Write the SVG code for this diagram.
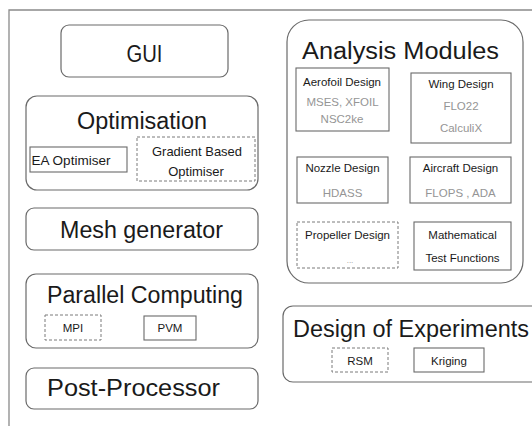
<svg xmlns="http://www.w3.org/2000/svg" width="532" height="426" viewBox="0 0 532 426">
<style>
.frame{fill:none;stroke:#8a8a8a;stroke-width:1.3}
.big{fill:#fff;stroke:#6a6a6a;stroke-width:1.2}
.sub{fill:#fff;stroke:#6a6a6a;stroke-width:1.1}
.dash{fill:#fff;stroke:#7a7a7a;stroke-width:1;stroke-dasharray:3,2}
text{font-family:"Liberation Sans",Arial,sans-serif;text-anchor:middle;fill:#1a1a1a}
.t{font-size:23px}
.s{font-size:13px}
.m{font-size:11.5px}
.g{font-size:11.5px;fill:#959595}
</style>
<rect x="0" y="0" width="532" height="426" fill="#fff"/>
<path class="frame" d="M9,426 V10 H532"/>
<g id="gui">
<rect class="big" x="61" y="25" width="167" height="52" rx="8"/>
<text class="t" x="144.5" y="62" textLength="36" lengthAdjust="spacingAndGlyphs">GUI</text>
</g>
<g id="optimisation">
<rect class="big" x="26" y="96" width="232" height="94" rx="11"/>
<text class="t" x="142" y="129" textLength="130" lengthAdjust="spacingAndGlyphs">Optimisation</text>
<g id="ea-optimiser">
<rect class="sub" x="30" y="147" width="97" height="25"/>
<text class="s" x="71" y="165" textLength="79" lengthAdjust="spacingAndGlyphs">EA Optimiser</text>
</g>
<g id="gradient-optimiser">
<rect class="dash" x="137" y="137" width="118" height="44"/>
<text class="s" x="197" y="156" textLength="90" lengthAdjust="spacingAndGlyphs">Gradient Based</text>
<text class="s" x="196" y="176">Optimiser</text>
</g>
</g>
<g id="mesh">
<rect class="big" x="26" y="208" width="232" height="42" rx="8"/>
<text class="t" x="141.5" y="238" textLength="163" lengthAdjust="spacingAndGlyphs">Mesh generator</text>
</g>
<g id="parallel">
<rect class="big" x="26" y="274" width="232" height="74" rx="10"/>
<text class="t" x="145" y="303" textLength="196" lengthAdjust="spacingAndGlyphs">Parallel Computing</text>
<g id="mpi">
<rect class="dash" x="45" y="315" width="56" height="25"/>
<text class="m" x="73" y="332">MPI</text>
</g>
<g id="pvm">
<rect class="sub" x="144" y="316" width="52" height="24"/>
<text class="m" x="170" y="332">PVM</text>
</g>
</g>
<g id="post">
<rect class="big" x="26" y="368" width="232" height="41" rx="8"/>
<text class="t" x="133.5" y="396" textLength="173" lengthAdjust="spacingAndGlyphs">Post-Processor</text>
</g>
<g id="analysis">
<rect class="big" x="287" y="20" width="236" height="263" rx="22"/>
<text class="t" x="400.5" y="59" textLength="197" lengthAdjust="spacingAndGlyphs">Analysis Modules</text>
<g id="aerofoil">
<rect class="sub" x="296" y="68" width="93" height="63"/>
<text class="m" x="342" y="86">Aerofoil Design</text>
<text class="g" x="342.5" y="106">MSES,  XFOIL</text>
<text class="g" x="342" y="123">NSC2ke</text>
</g>
<g id="wing">
<rect class="sub" x="411" y="73" width="100" height="70"/>
<text class="m" x="461" y="88">Wing Design</text>
<text class="g" x="461" y="110">FLO22</text>
<text class="g" x="461" y="132">CalculiX</text>
</g>
<g id="nozzle">
<rect class="sub" x="297" y="157" width="91" height="46"/>
<text class="m" x="342.5" y="172">Nozzle Design</text>
<text class="g" x="342.5" y="197">HDASS</text>
</g>
<g id="aircraft">
<rect class="sub" x="410" y="157" width="101" height="46"/>
<text class="m" x="460.5" y="172">Aircraft Design</text>
<text class="g" x="460.5" y="197">FLOPS , ADA</text>
</g>
<g id="propeller">
<rect class="dash" x="297" y="222" width="101" height="46"/>
<text class="m" x="347.5" y="239">Propeller Design</text>
<text class="g" x="350" y="263" style="font-size:8px">...</text>
</g>
<g id="math">
<rect class="sub" x="414" y="222" width="97" height="48"/>
<text class="m" x="462.5" y="239">Mathematical</text>
<text class="m" x="462.5" y="262">Test Functions</text>
</g>
</g>
<g id="doe">
<rect class="big" x="283" y="306" width="260" height="76" rx="10"/>
<text class="t" x="411" y="337" textLength="236" lengthAdjust="spacingAndGlyphs">Design  of Experiments</text>
<g id="rsm">
<rect class="dash" x="332" y="348" width="56" height="24"/>
<text class="m" x="360" y="365">RSM</text>
</g>
<g id="kriging">
<rect class="sub" x="414" y="348" width="70" height="24"/>
<text class="m" x="449" y="365">Kriging</text>
</g>
</g>
</svg>
